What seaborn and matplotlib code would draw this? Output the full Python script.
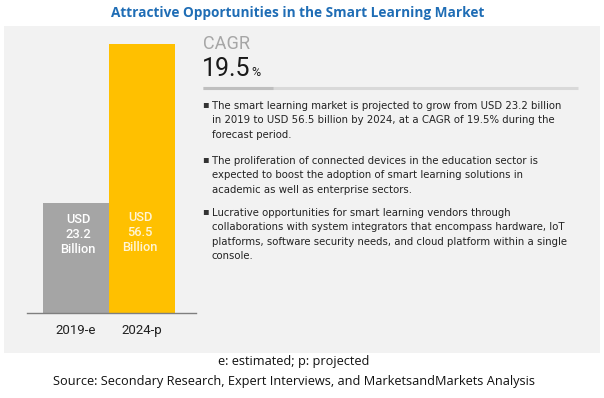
import matplotlib
matplotlib.use("Agg")
import matplotlib.pyplot as plt
from matplotlib.patches import Rectangle
import seaborn as sns
import pandas as pd

# ---- data ----
years = ["2019-e", "2024-p"]
values = [23.2, 56.5]
bar_colors = ["#A5A5A5", "#FFC000"]
bar_label_colors = ["#FFFFFF", "#FFF5D6"]
bar_labels = ["USD\n23.2\nBillion", "USD\n56.5\nBillion"]
title = "Attractive Opportunities in the Smart Learning Market"
cagr_label = "CAGR"
cagr_value = "19.5"
bullets = [
    "The smart learning market is projected to grow from USD 23.2 billion\nin 2019 to USD 56.5 billion by 2024, at a CAGR of 19.5% during the\nforecast period.",
    "The proliferation of connected devices in the education sector is\nexpected to boost the adoption of smart learning solutions in\nacademic as well as enterprise sectors.",
    "Lucrative opportunities for smart learning vendors through\ncollaborations with system integrators that encompass hardware, IoT\nplatforms, software security needs, and cloud platform within a single\nconsole.",
]
footnote = "e: estimated; p: projected"
source = "Source: Secondary Research, Expert Interviews, and MarketsandMarkets Analysis"

W, H = 604, 398
sns.set_theme(style="white")
plt.rcParams["font.family"] = ["DejaVu Sans"]
NARROW = ["Liberation Sans Narrow", "Roboto", "DejaVu Sans"]

fig = plt.figure(figsize=(W / 100, H / 100), dpi=100)
fig.patch.set_facecolor("white")

def fx(x):
    return x / W

def fy(y):
    return 1 - y / H

# background panel
panel = Rectangle((fx(4), fy(353)), fx(596), (353 - 26) / H,
                  transform=fig.transFigure, facecolor="#F2F2F2",
                  edgecolor="none", zorder=-5)
fig.add_artist(panel)

# title
fig.text(fx(298), fy(13), title, ha="center", va="center", fontsize=9.8,
         fontweight="bold", color="#1F6DB5", family=["Open Sans", "DejaVu Sans"])

# bar axes
base_y = 313
top_y = 44
ax = fig.add_axes([fx(27), fy(base_y), fx(196 - 27), (base_y - top_y) / H])
ax.set_zorder(2)
df = pd.DataFrame({"year": years, "value": values})
sns.barplot(data=df, x="year", y="value", hue="year", palette=bar_colors,
            width=1.0, legend=False, ax=ax, saturation=1,
            edgecolor="none", linewidth=0)
ax.set_facecolor("none")
ax.patch.set_alpha(0)
ax.set_ylim(0, max(values))
px_per_unit = 66
c0 = 76
ax.set_xlim(-(c0 - 27) / px_per_unit, 1 + (196 - (c0 + px_per_unit)) / px_per_unit)
for s in ["top", "right", "left"]:
    ax.spines[s].set_visible(False)
ax.spines["bottom"].set_color("#7F7F7F")
ax.spines["bottom"].set_linewidth(1.0)
ax.set_yticks([])
ax.set_xlabel("")
ax.set_ylabel("")
ax.tick_params(axis="x", length=0, pad=8)
for lab in ax.get_xticklabels():
    lab.set_fontsize(9.5)
    lab.set_family(NARROW)
    lab.set_color("#222222")
label_centers = [234.5, 232.5]
label_dx = [2 / px_per_unit, -2 / px_per_unit]
for i, t in enumerate(bar_labels):
    ly = (base_y - label_centers[i]) / (base_y - top_y) * max(values)
    ax.text(i + label_dx[i], ly, t, ha="center", va="center",
            color=bar_label_colors[i], fontsize=9.3, fontweight="medium",
            linespacing=1.2, family=NARROW)

# CAGR block
fig.text(fx(203), fy(44), cagr_label, ha="left", va="center", fontsize=13,
         color="#A6A6A6", family=NARROW)
t = fig.text(fx(202), fy(69), cagr_value, ha="left", va="center", fontsize=18,
             color="#1A1A1A", family=NARROW)
fig.canvas.draw()
bb = t.get_window_extent()
fig.text(bb.x1 / W + fx(1), fy(73), "%", ha="left", va="center", fontsize=9,
         color="#1A1A1A", family=NARROW)

# divider line
fig.add_artist(plt.Line2D([fx(203), fx(578)], [fy(88), fy(88)],
                          transform=fig.transFigure, color="#D9D9D9", lw=2.2,
                          solid_capstyle="butt"))
fig.add_artist(plt.Line2D([fx(203), fx(273)], [fy(88), fy(88)],
                          transform=fig.transFigure, color="#BFBFBF", lw=2.2,
                          solid_capstyle="butt"))

# bullets
bullet_tops = [106, 161, 213]
for y0, txt in zip(bullet_tops, bullets):
    fig.text(fx(202), fy(y0 - 2), "\u25aa", ha="left", va="center", fontsize=7,
             color="#333333")
    fig.text(fx(212), fy(y0 - 5), txt, ha="left", va="top", fontsize=7.3,
             color="#222222", linespacing=1.55)

# footer
fig.text(fx(294), fy(362), footnote, ha="center", va="center", fontsize=9.2,
         color="#111111", family=["Open Sans", "DejaVu Sans"])
fig.text(fx(294), fy(381), source, ha="center", va="center", fontsize=9.2,
         color="#111111", family=["Open Sans", "DejaVu Sans"])

fig.savefig("out.png", dpi=100)
